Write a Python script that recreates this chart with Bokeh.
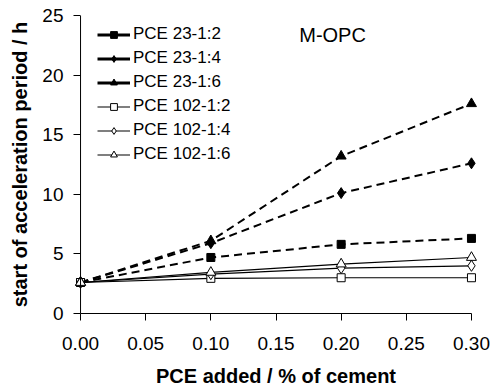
from bokeh.plotting import figure
from bokeh.models import Range1d, FixedTicker, Legend, LegendItem, Span
from bokeh.embed import file_html
from bokeh.resources import INLINE
from bokeh.core.properties import value

# ---- data ----
pce_added = [0.0, 0.1, 0.2, 0.3]
pce23_12 = [2.6, 4.7, 5.8, 6.3]
pce23_14 = [2.6, 5.9, 10.1, 12.6]
pce23_16 = [2.6, 6.1, 13.2, 17.6]
pce102_12 = [2.6, 2.95, 3.0, 3.0]
pce102_14 = [2.6, 3.3, 3.8, 4.0]
pce102_16 = [2.6, 3.45, 4.15, 4.7]

series_names = ["PCE 23-1:2", "PCE 23-1:4", "PCE 23-1:6",
                "PCE 102-1:2", "PCE 102-1:4", "PCE 102-1:6"]
series_values = [pce23_12, pce23_14, pce23_16, pce102_12, pce102_14, pce102_16]

x_ticks = [0.0, 0.05, 0.10, 0.15, 0.20, 0.25, 0.30]
x_tick_labels = ["0.00", "0.05", "0.10", "0.15", "0.20", "0.25", "0.30"]
y_ticks = [0, 5, 10, 15, 20, 25]

annotation_text = "M-OPC"

FONT = "Liberation Sans"

p = figure(width=492, height=389, output_backend="svg", toolbar_location=None,
           x_range=Range1d(-0.0077, 0.3077), y_range=Range1d(0, 25),
           min_border_left=70, min_border_right=11, min_border_top=15,
           min_border_bottom=76)
p.outline_line_color = None
p.grid.visible = False
p.background_fill_color = "white"

# axes
xa = p.xaxis[0]
ya = p.yaxis[0]
xa.bounds = (0, 0.30)
xa.ticker = FixedTicker(ticks=x_ticks)
xa.major_label_overrides = {t: l for t, l in zip(x_ticks, x_tick_labels)}
ya.ticker = FixedTicker(ticks=y_ticks)
for ax in (xa, ya):
    ax.axis_line_color = "black"
    ax.axis_line_width = 1
    ax.major_tick_line_color = "black"
    ax.minor_tick_line_color = None
    ax.major_label_text_font = FONT
    ax.major_label_text_font_size = "19px"
    ax.major_label_text_color = "black"
    ax.axis_label_text_font = FONT
    ax.axis_label_text_font_size = "20px"
    ax.axis_label_text_font_style = "bold"
    ax.axis_label_text_color = "black"
xa.major_tick_in = 0
xa.major_tick_out = 7
xa.major_label_standoff = 16
xa.axis_label_standoff = 12
# y axis drawn at data x = 0 (frame is padded a little so edge markers show)
ya.axis_line_color = None
ya.major_tick_in = 10
ya.major_tick_out = -3
ya.major_label_standoff = 7
ya.axis_label_standoff = 8
xa.axis_label = "PCE added / % of cement"
ya.axis_label = "start of acceleration period / h"
p.add_layout(Span(location=0, dimension="height", line_color="black", line_width=1))

markers = ["square", "diamond", "triangle", "square", "diamond", "triangle"]
sizes = [8, 11, 10, 8, 11, 10]
nan = float("nan")
items = []
for i, (name, vals) in enumerate(zip(series_names, series_values)):
    filled = i < 3
    if filled:
        p.line(pce_added, vals, line_color="black", line_width=2, line_dash="8 5")
        proxy = p.line([nan], [nan], line_color="black", line_width=3)
        sc = p.scatter(pce_added, vals, marker=markers[i], size=sizes[i],
                       fill_color="black", line_color="black")
    else:
        p.line(pce_added, vals, line_color="black", line_width=1.2)
        proxy = p.line([nan], [nan], line_color="black", line_width=1.2)
        sc = p.scatter(pce_added, vals, marker=markers[i], size=sizes[i],
                       fill_color="white", line_color="black", line_width=1)
    items.append(LegendItem(label=name, renderers=[proxy, sc]))

legend = Legend(items=items, location=(27, 149), glyph_width=33, glyph_height=17,
                label_height=20, spacing=4, label_standoff=3, padding=0, margin=0,
                label_text_font=FONT, label_text_font_size="17px",
                label_text_color="black",
                border_line_alpha=0, background_fill_alpha=0)
p.add_layout(legend)

p.text(x=[0.1934], y=[23.4], text=[annotation_text], text_font=value(FONT),
       text_font_size="20px", text_align="center", text_baseline="middle",
       text_color="black")

open("out.html", "w").write(file_html(p, INLINE))
